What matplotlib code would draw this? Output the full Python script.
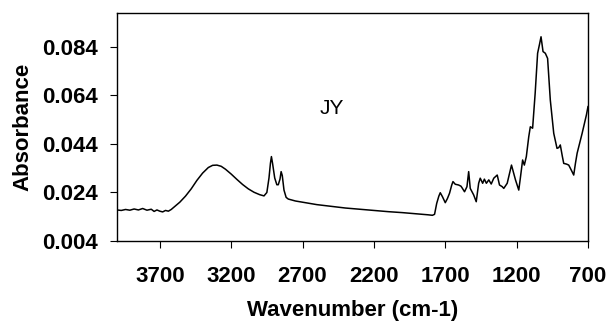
import matplotlib
matplotlib.use("Agg")
import matplotlib.pyplot as plt

# FTIR absorbance spectrum of sample JY
wavenumber = [
    4000, 3970, 3940, 3910, 3880, 3850, 3820, 3790, 3760, 3740, 3720, 3700,
    3680, 3660, 3640, 3620, 3600, 3560, 3520, 3480, 3440, 3400, 3360, 3330,
    3300, 3270, 3240, 3200, 3160, 3120, 3080, 3040, 3000, 2970, 2950, 2935,
    2925, 2918, 2910, 2895, 2880, 2870, 2858, 2850, 2842, 2830, 2815, 2800,
    2750, 2700, 2600, 2500, 2400, 2300, 2200, 2100, 2000, 1900, 1820, 1790,
    1775, 1760, 1745, 1735, 1720, 1700, 1685, 1670, 1655, 1646, 1630, 1607,
    1590, 1583, 1565, 1548, 1536, 1525, 1501, 1483, 1466, 1455, 1438, 1426,
    1412, 1395, 1378, 1360, 1336, 1320, 1301, 1290, 1266, 1236, 1208, 1185,
    1174, 1158, 1146, 1132, 1115, 1104, 1088, 1070, 1053, 1040, 1029, 1015,
    999, 983, 964, 940, 917, 905, 894, 880, 870, 850, 835, 815, 800, 788,
    776, 741, 711, 700,
]
absorbance = [
    0.0168, 0.0166, 0.0170, 0.0167, 0.0172, 0.0168, 0.0174, 0.0167, 0.0171,
    0.0162, 0.0168, 0.0163, 0.0160, 0.0166, 0.0163, 0.0170, 0.0180, 0.0200,
    0.0225, 0.0255, 0.0290, 0.0320, 0.0343, 0.0352, 0.0353, 0.0348, 0.0336,
    0.0316, 0.0294, 0.0273, 0.0255, 0.0241, 0.0231, 0.0226, 0.0240, 0.0300,
    0.0360, 0.0388, 0.0360, 0.0300, 0.0272, 0.0272, 0.0295, 0.0326, 0.0310,
    0.0250, 0.0220, 0.0213, 0.0205, 0.0200, 0.0190, 0.0183, 0.0176, 0.0171,
    0.0166, 0.0161, 0.0157, 0.0152, 0.0148, 0.0146, 0.0150, 0.0195, 0.0225,
    0.0239, 0.0223, 0.0198, 0.0215, 0.0237, 0.0270, 0.0285, 0.0274, 0.0271,
    0.0266, 0.0260, 0.0243, 0.0264, 0.0326, 0.0257, 0.0230, 0.0202, 0.0278,
    0.0299, 0.0278, 0.0295, 0.0278, 0.0292, 0.0275, 0.0299, 0.0312, 0.0271,
    0.0264, 0.0257, 0.0278, 0.0353, 0.0292, 0.0250, 0.0299, 0.0374, 0.0353,
    0.0388, 0.0470, 0.0511, 0.0505, 0.0650, 0.0814, 0.0850, 0.0882, 0.0821,
    0.0814, 0.0793, 0.0621, 0.0484, 0.0422, 0.0425, 0.0436, 0.0390, 0.0360,
    0.0357, 0.0353, 0.0330, 0.0312, 0.0360, 0.0402, 0.0484, 0.0560, 0.0594,
]
x_ticks = [3700, 3200, 2700, 2200, 1700, 1200, 700]
y_ticks = [0.004, 0.024, 0.044, 0.064, 0.084]
sample_name = "JY"

plt.rcParams["font.family"] = ["Liberation Sans", "DejaVu Sans"]

fig = plt.figure(figsize=(6.09, 3.21), dpi=100)
ax = fig.add_axes([0.1921, 0.2492, 0.7734, 0.7103])

ax.plot(wavenumber, absorbance, color="black", linewidth=1.1)

ax.set_xlim(4000, 700)
ax.set_ylim(0.004, 0.098)
ax.set_xticks(x_ticks)
ax.set_yticks(y_ticks)
ax.set_xticklabels([str(v) for v in x_ticks], fontsize=16, fontweight="bold")
ax.set_yticklabels([f"{v:.3f}" for v in y_ticks], fontsize=16, fontweight="bold")
ax.tick_params(axis="x", direction="out", length=5, width=0.8, pad=13)
ax.tick_params(axis="y", direction="out", length=5, width=0.8, pad=9)

for s in ax.spines.values():
    s.set_linewidth(1.0)

ax.set_xlabel("Wavenumber (cm-1)", fontsize=16, fontweight="bold", labelpad=9)
ax.set_ylabel("Absorbance", fontsize=16, fontweight="bold", labelpad=6)

ax.text(2494, 0.0588, sample_name, fontsize=15, ha="center", va="center")

fig.savefig("out.png", dpi=100)
